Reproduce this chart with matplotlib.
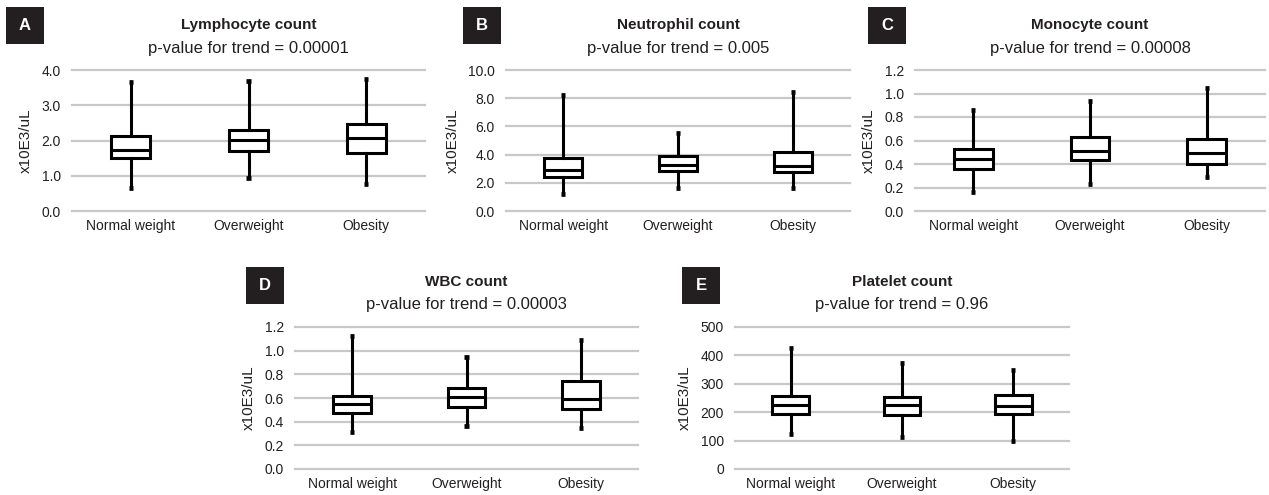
import matplotlib
matplotlib.use('Agg')
import matplotlib.pyplot as plt
from matplotlib.patches import Rectangle

plt.rcParams['font.family'] = ['Liberation Sans Narrow', 'Liberation Sans', 'DejaVu Sans']

groups = ['Normal weight', 'Overweight', 'Obesity']

# per panel: whisker low, Q1, median, Q3, whisker high (one entry per group)
lymph_lo = [0.66, 0.95, 0.78]
lymph_q1 = [1.49, 1.70, 1.65]
lymph_med = [1.73, 2.01, 2.07]
lymph_q3 = [2.12, 2.31, 2.47]
lymph_hi = [3.67, 3.70, 3.74]

neut_lo = [1.18, 1.66, 1.66]
neut_q1 = [2.42, 2.84, 2.77]
neut_med = [2.94, 3.27, 3.18]
neut_q3 = [3.74, 3.93, 4.15]
neut_hi = [8.20, 5.50, 8.46]

mono_lo = [0.16, 0.23, 0.29]
mono_q1 = [0.36, 0.43, 0.40]
mono_med = [0.44, 0.51, 0.49]
mono_q3 = [0.53, 0.63, 0.61]
mono_hi = [0.86, 0.935, 1.044]

wbc_lo = [0.31, 0.367, 0.347]
wbc_q1 = [0.475, 0.525, 0.511]
wbc_med = [0.55, 0.607, 0.593]
wbc_q3 = [0.62, 0.686, 0.743]
wbc_hi = [1.12, 0.95, 1.088]

plt_lo = [125, 112, 100]
plt_q1 = [194, 189, 194]
plt_med = [225, 225, 222]
plt_q3 = [256, 252, 259]
plt_hi = [425, 373, 348]

panels = [
    ('A', 'Lymphocyte count', '0.00001', (lymph_lo, lymph_q1, lymph_med, lymph_q3, lymph_hi),
     [0, 1, 2, 3, 4], ['0.0', '1.0', '2.0', '3.0', '4.0'], (72, 70, 425, 211)),
    ('B', 'Neutrophil count', '0.005', (neut_lo, neut_q1, neut_med, neut_q3, neut_hi),
     [0, 2, 4, 6, 8, 10], ['0.0', '2.0', '4.0', '6.0', '8.0', '10.0'], (506, 70, 850, 211)),
    ('C', 'Monocyte count', '0.00008', (mono_lo, mono_q1, mono_med, mono_q3, mono_hi),
     [0, 0.2, 0.4, 0.6, 0.8, 1.0, 1.2], ['0.0', '0.2', '0.4', '0.6', '0.8', '1.0', '1.2'], (915, 70, 1265, 211)),
    ('D', 'WBC count', '0.00003', (wbc_lo, wbc_q1, wbc_med, wbc_q3, wbc_hi),
     [0, 0.2, 0.4, 0.6, 0.8, 1.0, 1.2], ['0.0', '0.2', '0.4', '0.6', '0.8', '1.0', '1.2'], (295, 327, 638, 469)),
    ('E', 'Platelet count', '0.96', (plt_lo, plt_q1, plt_med, plt_q3, plt_hi),
     [0, 100, 200, 300, 400, 500], ['0', '100', '200', '300', '400', '500'], (735, 327, 1069, 469)),
]

W, H = 1269, 495
fig = plt.figure(figsize=(W / 100, H / 100), dpi=100)

for letter, title, pval, stats, ticks, ticklabels, (x0, y0, x1, y1) in panels:
    ax = fig.add_axes([x0 / W, 1 - y1 / H, (x1 - x0) / W, (y1 - y0) / H])
    lo, q1, med, q3, hi = stats
    bxp_stats = [dict(whislo=lo[i], q1=q1[i], med=med[i], q3=q3[i], whishi=hi[i], fliers=[])
                 for i in range(len(groups))]
    lw = 2.2
    ax.bxp(bxp_stats, positions=range(len(groups)), widths=0.33, capwidths=0.035,
           patch_artist=True, showfliers=False,
           boxprops=dict(facecolor='white', edgecolor='black', linewidth=lw),
           medianprops=dict(color='black', linewidth=lw),
           whiskerprops=dict(color='black', linewidth=lw),
           capprops=dict(color='black', linewidth=lw + 1.2, solid_capstyle='butt'),
           zorder=3)
    ax.set_xlim(-0.5, 2.5)
    ax.set_ylim(0, ticks[-1])
    ax.set_yticks(ticks)
    ax.set_yticklabels(ticklabels)
    ax.set_xticks(range(len(groups)))
    ax.set_xticklabels(groups)
    ax.set_axisbelow(True)
    ax.yaxis.grid(True, color='#c8c8c8', linewidth=1.6)
    for s in ax.spines.values():
        s.set_visible(False)
    ax.tick_params(axis='both', length=0, labelsize=10, colors='#231f20')
    ax.tick_params(axis='y', pad=8)
    ax.tick_params(axis='x', pad=6)
    ax.set_ylabel('x10E3/uL', fontsize=11, color='#231f20', labelpad=6)
    for gl in ax.yaxis.get_gridlines():
        gl.set_clip_on(False)

    cx = (x0 + x1) / 2
    fig.text(cx / W, 1 - (y0 - 45) / H, title, ha='center', va='center',
             fontsize=11, fontweight='bold', color='#231f20')
    fig.text(cx / W, 1 - (y0 - 22) / H, 'p-value for trend = ' + pval, ha='center', va='center',
             fontsize=12, color='#231f20')

# panel letter boxes
letter_boxes = [('A', 6, 7), ('B', 463, 7), ('C', 868, 7), ('D', 246, 267), ('E', 682, 267)]
for letter, bx, by in letter_boxes:
    fig.patches.append(Rectangle((bx / W, 1 - (by + 37) / H), 38 / W, 37 / H,
                                 transform=fig.transFigure, facecolor='#231f20', edgecolor='none'))
    fig.text((bx + 19) / W, 1 - (by + 18.5) / H, letter, ha='center', va='center',
             fontsize=12, fontweight='bold', color='white')

fig.savefig('out.png', dpi=100, facecolor='white')
